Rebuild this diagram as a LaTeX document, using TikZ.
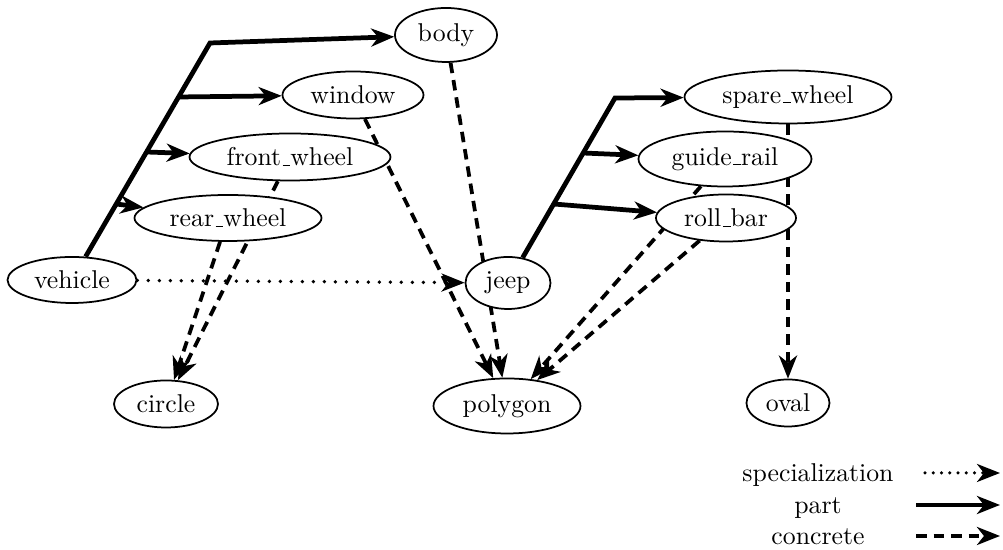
\documentclass[tikz,border=0pt]{standalone}
\usetikzlibrary{shapes.geometric,arrows.meta,backgrounds}
\newcommand\usc{\leavevmode\kern.06em\vbox{\hrule width.3em height 0.5pt}}
\begin{document}
\begin{tikzpicture}[x=0.4pt,y=-0.4pt,
  every node/.style={font=\fontsize{10.3}{12}\selectfont},
  nd/.style 2 args={ellipse, draw, line width=0.7pt, fill=white, inner sep=0pt,
    minimum width=#1*0.4pt, minimum height=#2*0.4pt},
  tip/.style={-{Stealth[length=9.2pt,width=7.2pt,inset=2.8pt]}},
  part/.style={tip, line width=1.9pt},
  conc/.style={tip, line width=1.5pt, dash pattern=on 4.2pt off 2.8pt},
  spec/.style={tip, line width=1.5pt, line cap=round, dash pattern=on 0pt off 4.4pt},
  lspecst/.style={tip, line width=1.4pt, line cap=round, dash pattern=on 0pt off 3.3pt}]
\useasboundingbox (0,0) rectangle (1003,550);
% nodes
\node[nd={102}{54}] (body) at (446,35) {body};
\node[nd={141}{47}] (window) at (353,95) {window};
\node[nd={201}{47}] (front) at (290,157) {front\usc wheel};
\node[nd={187}{46}] (rear) at (228,218) {rear\usc wheel};
\node[nd={129}{46}] (vehicle) at (72,280) {vehicle};
\node[nd={85}{52}] (jeep) at (508,283) {jeep};
\node[nd={207}{53}] (spare) at (788,97) {spare\usc wheel};
\node[nd={173}{55}] (guide) at (725,159) {guide\usc rail};
\node[nd={140}{47}] (roll) at (726,218) {roll\usc bar};
\node[nd={104}{47}] (circle) at (166,404) {circle};
\node[nd={147}{55}] (polygon) at (507,406) {polygon};
\node[nd={83}{47}] (oval) at (788,403) {oval};
% legend
\node[anchor=base] (lspec) at (818,482) {specialization};
\node[anchor=base] (lpart) at (818,514) {part};
\node[anchor=base] (lconc) at (818,545) {concrete};
\coordinate (s1) at (925,473); \coordinate (e1) at (1000,473);
\coordinate (s2) at (916,505); \coordinate (e2) at (1000,505);
\coordinate (s3) at (916,536); \coordinate (e3) at (1000,536);
% bend / branch points
\coordinate (vc) at (210,43);
\coordinate (vb1) at (178.5,97);
\coordinate (vb2) at (146.5,152);
\coordinate (vb3) at (116.2,204);
\coordinate (jc) at (615,98);
\coordinate (jb1) at (583,153);
\coordinate (jb2) at (553.6,204);
\begin{scope}[on background layer]
  % part
  \draw[part] (vehicle) -- (vc) -- (body);
  \draw[part] (vb1) -- (window);
  \draw[part] (vb2) -- (front);
  \draw[part] (vb3) -- (rear);
  \draw[part] (jeep) -- (jc) -- (spare);
  \draw[part] (jb1) -- (guide);
  \draw[part] (jb2) -- (roll);
  % concrete
  \draw[conc] (body) -- (polygon);
  \draw[conc] (window) -- (polygon);
  \draw[conc] (front) -- (circle);
  \draw[conc] (rear) -- (circle);
  \draw[conc] (guide) -- (polygon);
  \draw[conc] (roll) -- (polygon);
  \draw[conc] (spare) -- (oval);
  % specialization
  \draw[spec] (vehicle) -- (jeep);
\end{scope}
\draw[lspecst] (s1) -- (e1);
\draw[part] (s2) -- (e2);
\draw[conc] (s3) -- (e3);
\end{tikzpicture}
\end{document}
